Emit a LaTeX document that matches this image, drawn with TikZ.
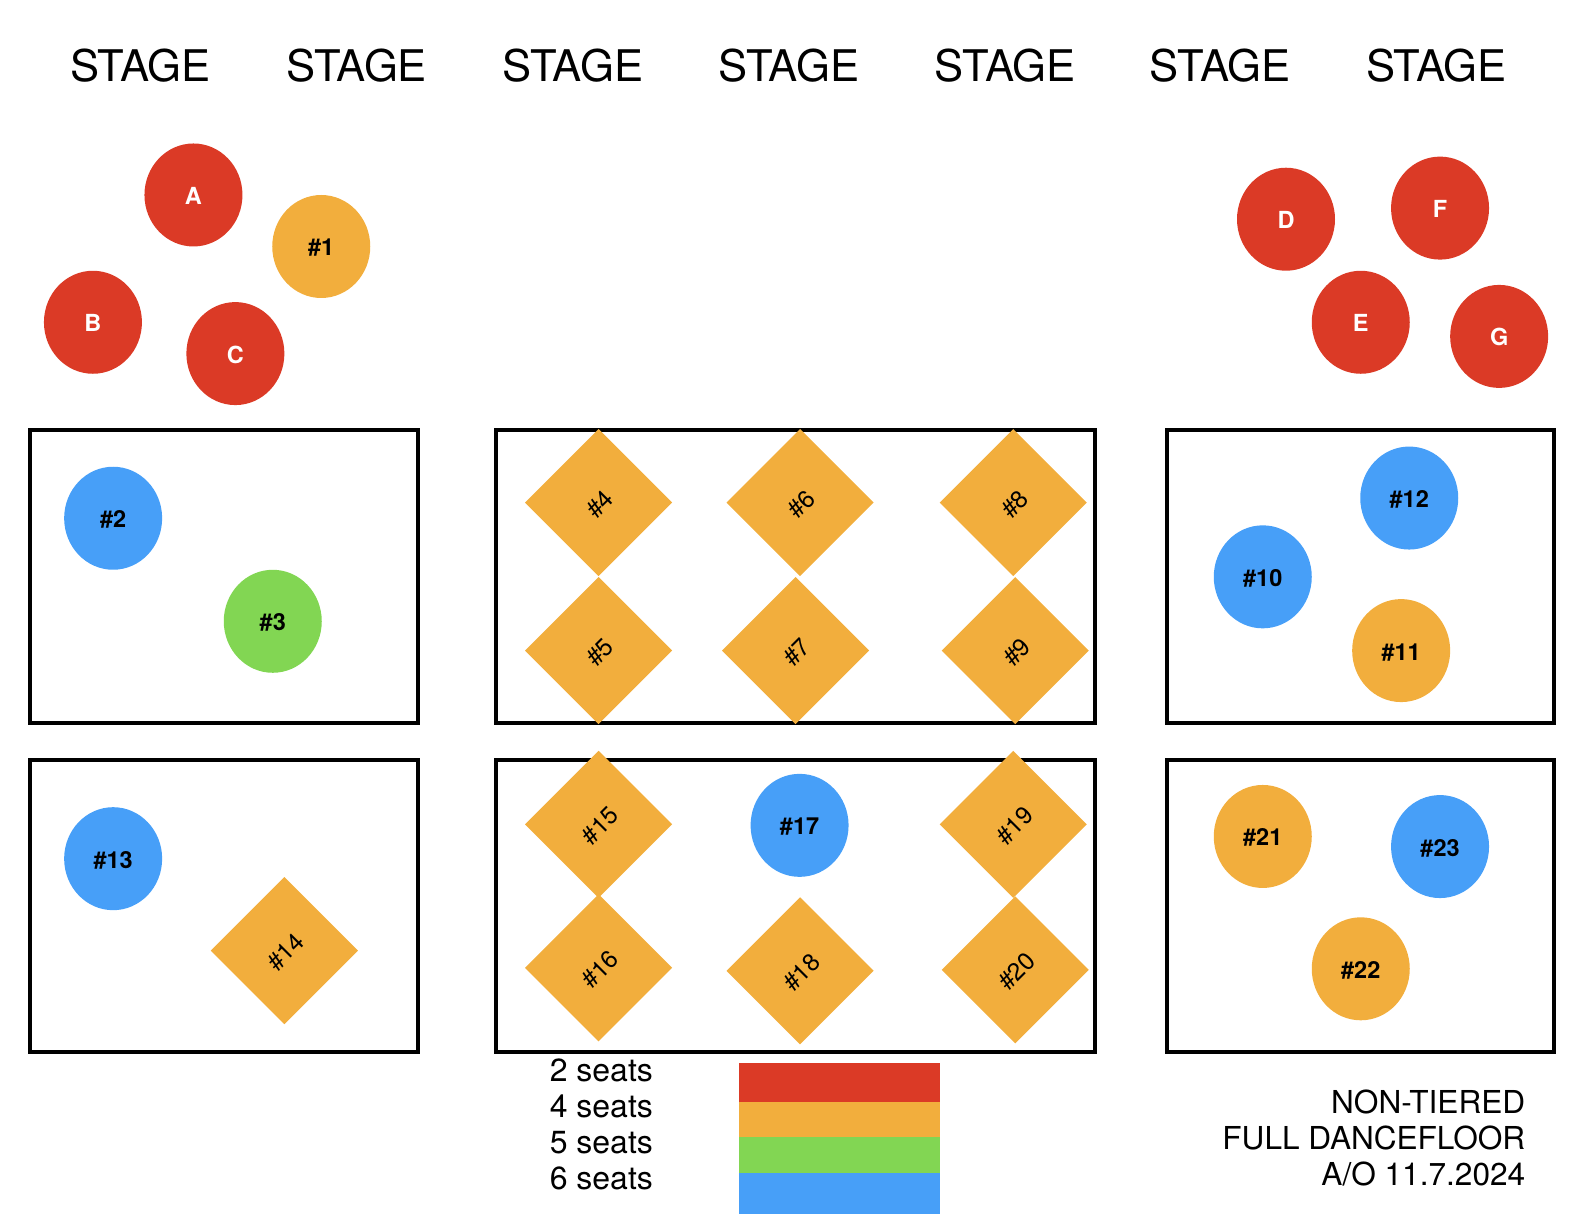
\documentclass[tikz,border=0pt]{standalone}
\usepackage{fontspec}
\setmainfont{TeX Gyre Heros}
\definecolor{cred}{HTML}{DB3A26}
\definecolor{corange}{HTML}{F2AE3D}
\definecolor{cgreen}{HTML}{82D653}
\definecolor{cblue}{HTML}{479FF8}
\tikzset{
  x=1.0102pt,y=-1.0102pt,
  room/.style={draw=black,line width=4pt,fill=none,line join=miter},
  seatc/.style={ellipse,inner sep=0pt,minimum width=98pt,minimum height=103pt,text height=19pt,text depth=0pt,font=\fontsize{23.5}{26}\selectfont\bfseries},
  redt/.style={seatc,fill=cred,text=white},
  oranget/.style={seatc,fill=corange,text=black},
  greent/.style={seatc,fill=cgreen,text=black},
  bluet/.style={seatc,fill=cblue,text=black},
  dia/.style={rectangle,rotate=45,inner sep=0pt,minimum size=104pt,text height=21pt,text depth=0pt,fill=corange,text=black,font=\fontsize{24.5}{27}\selectfont},
  stagelabel/.style={font=\fontsize{43.6}{48}\selectfont,inner sep=0pt,anchor=center},
  legtext/.style={font=\fontsize{32}{36}\selectfont,inner sep=0pt,anchor=base west},
  notetext/.style={font=\fontsize{31.6}{36}\selectfont,inner sep=0pt,anchor=base east},
  stripe/.style={fill=#1,draw=none}
}
\usetikzlibrary{shapes.geometric}
\begin{document}
\begin{tikzpicture}
\useasboundingbox (0,0) rectangle (1568,1211.6);
% stage
\node[stagelabel] (s1) at (139,65) {STAGE};
\node[stagelabel] (s2) at (353,65) {STAGE};
\node[stagelabel] (s3) at (567,65) {STAGE};
\node[stagelabel] (s4) at (781,65) {STAGE};
\node[stagelabel] (s5) at (995,65) {STAGE};
\node[stagelabel] (s6) at (1208,65) {STAGE};
\node[stagelabel] (s7) at (1422,65) {STAGE};
% rooms
\draw[room] (29.5,426) rectangle (413.5,716);
\draw[room] (491,426) rectangle (1083.5,716);
\draw[room] (1155,426) rectangle (1538.5,716);
\draw[room] (29.5,752) rectangle (413.5,1041.5);
\draw[room] (491,752) rectangle (1083.5,1041.5);
\draw[room] (1155,752) rectangle (1538.5,1041.5);
% top circles
\node[redt] (A) at (191.5,193) {A};
\node[oranget] (n1) at (318,244) {\#1};
\node[redt] (B) at (92,319) {B};
\node[redt] (C) at (233,350) {C};
\node[redt] (D) at (1273,217) {D};
\node[redt] (F) at (1425.5,206) {F};
\node[redt] (E) at (1347,319) {E};
\node[redt] (G) at (1484,333) {G};
% row 1
\node[bluet] (n2) at (112,513) {\#2};
\node[greent] (n3) at (270,615) {\#3};
\node[dia] (n4) at (592.5,497.5) {\#4};
\node[dia] (n5) at (592.5,644) {\#5};
\node[dia] (n6) at (792,497.5) {\#6};
\node[dia] (n7) at (787.5,644) {\#7};
\node[dia] (n8) at (1003,497.5) {\#8};
\node[dia] (n9) at (1005,644) {\#9};
\node[bluet] (n10) at (1250,571) {\#10};
\node[oranget] (n11) at (1387,644) {\#11};
\node[bluet] (n12) at (1395,493) {\#12};
% row 2
\node[bluet] (n13) at (112,850) {\#13};
\node[dia] (n14) at (281.5,941) {\#14};
\node[dia] (n15) at (592.5,816) {\#15};
\node[dia] (n16) at (592.5,958) {\#16};
\node[bluet] (n17) at (791.5,817) {\#17};
\node[dia] (n18) at (792,961) {\#18};
\node[dia] (n19) at (1003,816) {\#19};
\node[dia] (n20) at (1005,960) {\#20};
\node[oranget] (n21) at (1250,828) {\#21};
\node[oranget] (n22) at (1347,959) {\#22};
\node[bluet] (n23) at (1425.5,838) {\#23};
% legend
\node[legtext] (l2) at (544,1071) {2 seats};
\node[legtext] (l4) at (544,1106.5) {4 seats};
\node[legtext] (l5) at (544,1142) {5 seats};
\node[legtext] (l6) at (544,1177.5) {6 seats};
\fill[stripe=cblue] (732,1160) rectangle (930,1202);
\fill[stripe=cgreen] (732,1124) rectangle (930,1161);
\fill[stripe=corange] (732,1090) rectangle (930,1125);
\fill[stripe=cred] (732,1052) rectangle (930,1091);
% note
\node[notetext] (t1) at (1510,1102) {NON-TIERED};
\node[notetext] (t2) at (1510,1138) {FULL DANCEFLOOR};
\node[notetext] (t3) at (1510,1173.5) {A/O 11.7.2024};
\end{tikzpicture}
\end{document}
